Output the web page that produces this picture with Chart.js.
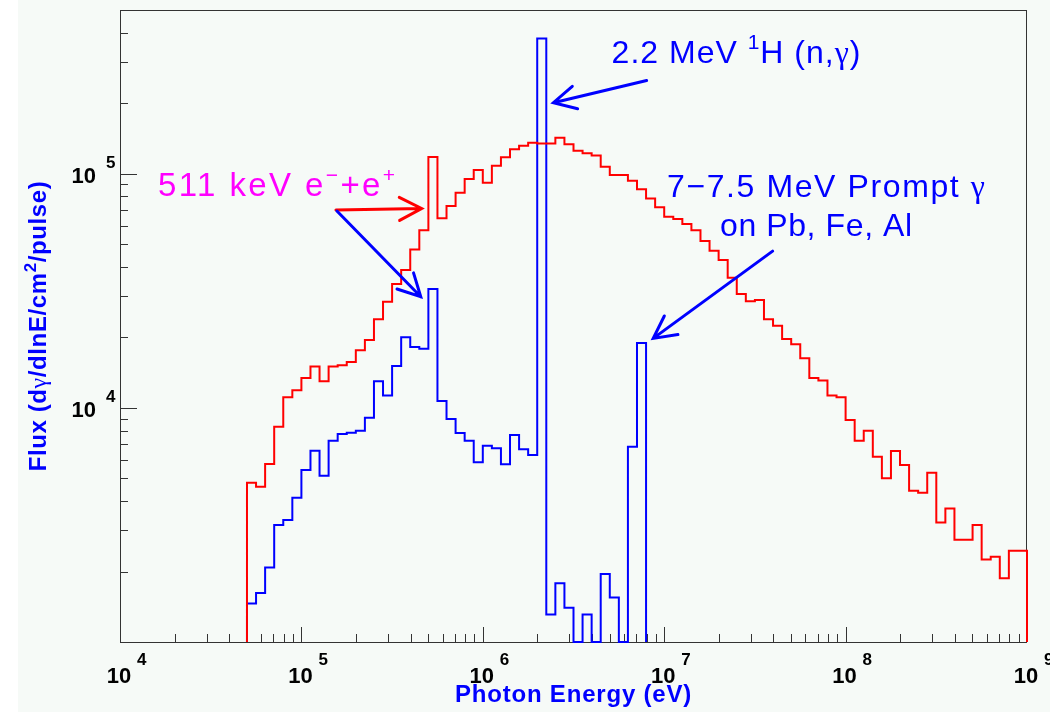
<!DOCTYPE html>
<html>
<head>
<meta charset="utf-8">
<script src="https://cdn.jsdelivr.net/npm/chart.js@4/dist/chart.umd.min.js"></script>
<style>
  html, body { margin: 0; padding: 0; background: #ffffff; }
  canvas { display: block; }
</style>
</head>
<body>
<canvas id="flux" width="1050" height="712"></canvas>
<script>
// histogram binning in log10(E / eV): 0.05 wide bins starting at 10^4.7
const logEmin = 4.7;
const binWidth = 0.05;

// total photon flux per bin (dγ/dlnE/cm²/pulse), 86 bins up to 1 GeV
const totalFlux = [
  4790, 4600, 5750, 8300, 11100, 11900, 13400, 15000, 13000, 15000,
  15200, 15700, 17600, 19500, 23900, 28400, 33800, 38800, 47500, 57400,
  117700, 64500, 72700, 82900, 94800, 103600, 91400, 108100, 117400, 127000,
  131500, 135500, 134700, 134700, 142300, 133400, 125300, 122100, 119700, 107000,
  98600, 98600, 93300, 85900, 78400, 71800, 65500, 64000, 60900, 57400,
  51600, 46900, 42800, 35900, 30600, 28500, 28900, 23900, 22400, 19700,
  18700, 16300, 13400, 13100, 11300, 11100, 8870, 7240, 7990, 6180,
  5000, 6540, 5700, 4430, 4340, 5280, 3240, 3720, 2730, 2730,
  3160, 2250, 2310, 1870, 2450, 2450
];

// line component (annihilation, n-capture, prompt gammas); 0 = empty bin
const captureFlux = [
  1460, 1620, 2080, 3160, 3320, 4130, 5430, 6560, 5130, 7240,
  7730, 7830, 7990, 9070, 13000, 11300, 15100, 20000, 18200, 17900,
  32200, 10700, 8970, 7800, 7230, 5850, 6890, 6720, 5740, 7650,
  6650, 6290, 377500, 1310, 1780, 1400, 0, 1310, 0, 1950,
  1550, 0, 6820, 18900
];

const xMin = 1e4, xMax = 1e9;
const yMin = 1e3, yMax = 5e5;
const xLabelExp = [4, 5, 6, 7, 8, 9];
const yLabelExp = [4, 5];

// annotation anchors in data units [E (eV), flux]
const arrows = [
  { from: [1.55e5, 7.0e4], to: [4.6e5, 7.1e4], color: '#ff0000' },
  { from: [1.57e5, 6.93e4], to: [4.55e5, 2.98e4], color: '#0000ff' },
  { from: [8.0e6, 2.5e5], to: [2.45e6, 2.01e5], color: '#0000ff' },
  { from: [3.96e7, 4.67e4], to: [8.7e6, 1.98e4], color: '#0000ff' }
];

const bg = '#f6faf7';
const axisColor = '#333333';
const red = '#ff0000';
const blue = '#0000ff';
const magenta = '#ff00ff';

const sans = '"Liberation Sans", Arial, sans-serif';
const serif = '"Liberation Serif", "DejaVu Serif", serif';
const noteFont = '32px ' + sans;
const noteSup = '21px ' + sans;
const noteGreek = '32px ' + serif;

function edge(k) {
  return Math.pow(10, logEmin + k * binWidth);
}

// step outline of a histogram, empty bins sit on the frame bottom
function histPoints(values) {
  const n = values.length;
  const lo = v => (v > 0 ? v : yMin);
  const pts = [{ x: edge(0), y: yMin }];
  values.forEach((v, k) => pts.push({ x: edge(k), y: lo(v) }));
  pts.push({ x: edge(n), y: lo(values[n - 1]) });
  pts.push({ x: edge(n), y: yMin });
  return pts;
}

function minorTicks(lo, hi) {
  const out = [];
  for (let e = Math.floor(Math.log10(lo)); Math.pow(10, e) < hi; e++) {
    for (let m = 2; m <= 9; m++) {
      const v = m * Math.pow(10, e);
      if (v > lo && v < hi) out.push(v);
    }
  }
  return out;
}

// text made of runs with their own font and baseline shift
function drawParts(ctx, parts, x, y, align, spacing) {
  ctx.letterSpacing = (spacing || 0) + 'px';
  const widths = parts.map(p => { ctx.font = p.font; return ctx.measureText(p.t).width; });
  const total = widths.reduce((s, w) => s + w, 0);
  let cx = align === 'center' ? x - total / 2 : align === 'right' ? x - total : x;
  parts.forEach((p, i) => {
    ctx.font = p.font;
    ctx.fillText(p.t, cx, y + (p.dy || 0));
    cx += widths[i];
  });
  ctx.letterSpacing = '0px';
}

function drawArrow(ctx, x0, y0, x1, y1) {
  const ang = Math.atan2(y0 - y1, x0 - x1);
  const len = 25, spread = 0.48;
  ctx.beginPath();
  ctx.moveTo(x0, y0);
  ctx.lineTo(x1, y1);
  ctx.moveTo(x1 + len * Math.cos(ang - spread), y1 + len * Math.sin(ang - spread));
  ctx.lineTo(x1, y1);
  ctx.lineTo(x1 + len * Math.cos(ang + spread), y1 + len * Math.sin(ang + spread));
  ctx.stroke();
}

const rootFrame = {
  id: 'rootFrame',
  beforeDraw(chart) {
    const ctx = chart.ctx;
    ctx.save();
    ctx.fillStyle = bg;
    ctx.fillRect(18, 0, chart.width - 18, chart.height);
    ctx.restore();
  },
  beforeDatasetsDraw(chart) {
    const { ctx, chartArea: a, scales: { x, y } } = chart;
    ctx.save();
    ctx.strokeStyle = axisColor;
    ctx.lineWidth = 1;
    ctx.strokeRect(a.left + 0.5, a.top + 0.5, a.right - a.left - 1, a.bottom - a.top);

    ctx.beginPath();
    // x axis ticks point up into the frame
    xLabelExp.forEach(e => {
      const px = Math.round(x.getPixelForValue(Math.pow(10, e))) + 0.5;
      ctx.moveTo(px, a.bottom); ctx.lineTo(px, a.bottom - 15);
    });
    minorTicks(xMin, xMax).forEach(v => {
      const px = Math.round(x.getPixelForValue(v)) + 0.5;
      ctx.moveTo(px, a.bottom); ctx.lineTo(px, a.bottom - 8);
    });
    // y axis ticks point right
    yLabelExp.forEach(e => {
      const py = Math.round(y.getPixelForValue(Math.pow(10, e))) + 0.5;
      ctx.moveTo(a.left, py); ctx.lineTo(a.left + 17, py);
    });
    minorTicks(yMin, yMax).forEach(v => {
      const py = Math.round(y.getPixelForValue(v)) + 0.5;
      ctx.moveTo(a.left, py); ctx.lineTo(a.left + 8, py);
    });
    ctx.stroke();
    ctx.restore();
  },
  afterDatasetsDraw(chart) {
    const { ctx, chartArea: a, scales: { x, y } } = chart;
    ctx.save();
    ctx.textBaseline = 'alphabetic';

    // decade labels
    ctx.fillStyle = '#000000';
    xLabelExp.forEach(e => {
      const px = x.getPixelForValue(Math.pow(10, e));
      ctx.font = 'bold 22px ' + sans;
      ctx.textAlign = 'center';
      ctx.fillText('10', px - 1, a.bottom + 41);
      ctx.font = 'bold 17px ' + sans;
      ctx.textAlign = 'left';
      ctx.fillText(String(e), px + 17, a.bottom + 23);
    });
    yLabelExp.forEach(e => {
      const py = y.getPixelForValue(Math.pow(10, e));
      ctx.font = 'bold 22px ' + sans;
      ctx.textAlign = 'right';
      ctx.fillText('10', a.left - 24, py + 9.5);
      ctx.font = 'bold 17px ' + sans;
      ctx.textAlign = 'left';
      ctx.fillText(String(e), a.left - 14, py - 5.5);
    });

    // axis titles
    ctx.textAlign = 'left';
    ctx.fillStyle = blue;
    drawParts(ctx, [{ t: 'Photon Energy (eV)', font: 'bold 24px ' + sans }],
      (a.left + a.right) / 2, a.bottom + 60, 'center', 0.8);
    ctx.save();
    ctx.translate(46, (a.top + a.bottom) / 2);
    ctx.rotate(-Math.PI / 2);
    drawParts(ctx, [
      { t: 'Flux (d', font: 'bold 24px ' + sans },
      { t: 'γ', font: '24px ' + serif },
      { t: '/dlnE/cm', font: 'bold 24px ' + sans },
      { t: '2', font: 'bold 17px ' + sans, dy: -10 },
      { t: '/pulse)', font: 'bold 24px ' + sans }
    ], 0, 0, 'center', 0.6);
    ctx.restore();

    // arrows
    ctx.lineWidth = 3;
    ctx.lineCap = 'round';
    arrows.forEach(ar => {
      ctx.strokeStyle = ar.color;
      drawArrow(ctx,
        x.getPixelForValue(ar.from[0]), y.getPixelForValue(ar.from[1]),
        x.getPixelForValue(ar.to[0]), y.getPixelForValue(ar.to[1]));
    });

    // line labels
    ctx.fillStyle = magenta;
    drawParts(ctx, [
      { t: '511 keV e', font: '33px ' + sans },
      { t: '−', font: noteSup, dy: -14 },
      { t: '+e', font: '33px ' + sans },
      { t: '+', font: noteSup, dy: -14 }
    ], x.getPixelForValue(1.62e4), y.getPixelForValue(7.99e4), 'left', 2.4);

    ctx.fillStyle = blue;
    drawParts(ctx, [
      { t: '2.2 MeV ', font: noteFont },
      { t: '1', font: noteSup, dy: -14 },
      { t: 'H (n,', font: noteFont },
      { t: 'γ', font: noteGreek },
      { t: ')', font: noteFont }
    ], x.getPixelForValue(5.13e6), y.getPixelForValue(2.96e5), 'left', 1);
    drawParts(ctx, [
      { t: '7−7.5 MeV Prompt ', font: noteFont },
      { t: 'γ', font: noteGreek }
    ], x.getPixelForValue(1.036e7), y.getPixelForValue(7.97e4), 'left', 1.6);
    drawParts(ctx, [{ t: 'on Pb, Fe, Al', font: noteFont }],
      x.getPixelForValue(2.03e7), y.getPixelForValue(5.42e4), 'left', 0.6);

    ctx.restore();
  }
};

new Chart(document.getElementById('flux'), {
  type: 'line',
  data: {
    datasets: [
      {
        label: 'total',
        data: histPoints(totalFlux),
        borderColor: red,
        borderWidth: 2,
        stepped: true,
        pointRadius: 0,
        fill: false,
        clip: false
      },
      {
        label: 'lines',
        data: histPoints(captureFlux),
        borderColor: blue,
        borderWidth: 2,
        stepped: true,
        pointRadius: 0,
        fill: false,
        clip: false
      }
    ]
  },
  options: {
    responsive: false,
    animation: false,
    layout: { padding: { left: 120, top: 10, right: 23, bottom: 70 } },
    plugins: {
      legend: { display: false },
      tooltip: { enabled: false }
    },
    scales: {
      x: { type: 'logarithmic', min: xMin, max: xMax, display: false },
      y: { type: 'logarithmic', min: yMin, max: yMax, display: false }
    },
    elements: { line: { borderJoinStyle: 'miter', borderCapStyle: 'butt', tension: 0 } }
  },
  plugins: [rootFrame]
});
</script>
</body>
</html>
